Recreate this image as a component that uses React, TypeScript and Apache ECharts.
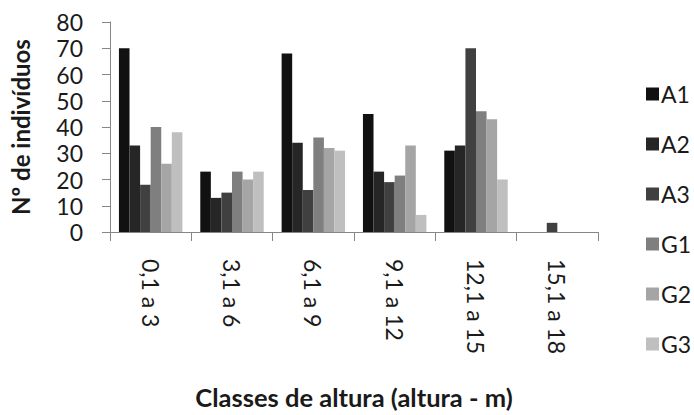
import { useEffect, useRef } from "react";
import * as echarts from "echarts";

const categories = ["0,1 a 3", "3,1 a 6", "6,1 a 9", "9,1 a 12", "12,1 a 15", "15,1 a 18"];
const seriesNames = ["A1", "A2", "A3", "G1", "G2", "G3"];
const a1 = [70, 23, 68, 45, 31, 0];
const a2 = [33, 13, 34, 23, 33, 0];
const a3 = [18, 15, 16, 19, 70, 3.5];
const g1 = [40, 23, 36, 21.5, 46, 0];
const g2 = [26, 20, 32, 33, 43, 0];
const g3 = [38, 23, 31, 6.5, 20, 0];
const seriesValues = [a1, a2, a3, g1, g2, g3];
const colors = ["#111111", "#262626", "#404040", "#7f7f7f", "#a5a5a5", "#bfbfbf"];
const yTicks = { min: 0, max: 80, interval: 10 };

const FONT = "Lato, 'Open Sans', sans-serif";
const AXIS_GRAY = "#868686";
const TEXT = "#1a1a1a";

export default function App() {
  const ref = useRef<HTMLDivElement>(null);

  useEffect(() => {
    if (!ref.current) return;
    const chart = echarts.init(ref.current, undefined, { renderer: "svg" });
    chart.setOption({
      animation: false,
      backgroundColor: "#ffffff",
      textStyle: { fontFamily: FONT },
      grid: { left: 110, right: 96, top: 22, bottom: 180, containLabel: false },
      legend: {
        orient: "vertical",
        left: 641,
        top: 77,
        itemWidth: 13,
        itemHeight: 13,
        itemGap: 26,
        icon: "rect",
        data: seriesNames,
        textStyle: { fontFamily: FONT, fontSize: 23, color: TEXT, lineHeight: 24, padding: [0, 0, 0, -3] },
      },
      xAxis: {
        type: "category",
        data: categories,
        name: "Classes de altura (altura - m)",
        nameLocation: "middle",
        nameGap: 152,
        nameTextStyle: { fontFamily: FONT, fontSize: 25.5, fontWeight: "bold", color: TEXT },
        axisLine: { show: true, lineStyle: { color: AXIS_GRAY, width: 1 } },
        axisTick: { show: true, alignWithLabel: false, length: 9, lineStyle: { color: AXIS_GRAY } },
        axisLabel: {
          rotate: -90,
          margin: 27,
          fontFamily: FONT,
          fontSize: 23,
          color: TEXT,
          interval: 0,
        },
        splitLine: { show: false },
      },
      yAxis: {
        type: "value",
        min: yTicks.min,
        max: yTicks.max,
        interval: yTicks.interval,
        name: "Nº de indivíduos",
        nameLocation: "middle",
        nameGap: 78,
        nameRotate: 90,
        nameTextStyle: { fontFamily: FONT, fontSize: 24, fontWeight: "bold", color: TEXT },
        axisLine: { show: true, lineStyle: { color: AXIS_GRAY, width: 1 } },
        axisTick: { show: true, length: 8, lineStyle: { color: AXIS_GRAY } },
        axisLabel: { margin: 27, fontFamily: FONT, fontSize: 23, color: TEXT },
        splitLine: { show: false },
      },
      series: seriesNames.map((name, i) => ({
        name,
        type: "bar",
        data: seriesValues[i],
        barGap: "0%",
        barCategoryGap: "22%",
        itemStyle: { color: colors[i] },
      })),
    });
    return () => chart.dispose();
  }, []);

  return (
    <div
      ref={ref}
      style={{ position: "fixed", left: 0, top: 0, width: 694, height: 415, background: "#fff" }}
    />
  );
}
